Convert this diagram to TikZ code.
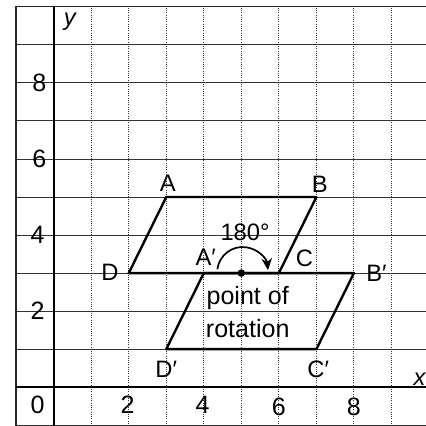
\documentclass[tikz,border=0pt]{standalone}
\usepackage{fontspec}
\setmainfont{Liberation Sans}
\usetikzlibrary{arrows.meta}
\tikzset{
  hline/.style={black!80, line width=0.7pt},
  vline/.style={black!80, line width=0.7pt, densely dotted},
  axisline/.style={black, line width=1.5pt},
  frameline/.style={black!85, line width=1pt},
  figline/.style={black, line width=1.8pt, line join=round},
  lbl/.style={inner sep=1pt, font=\fontsize{18}{20}\selectfont},
  big/.style={inner sep=1pt, font=\fontsize{19}{21}\selectfont},
  num/.style={inner sep=1pt, font=\fontsize{19}{21}\selectfont},
}
\begin{document}
\begin{tikzpicture}[x=1cm, y=1.0133cm]
\useasboundingbox (-1.43,-1.02) rectangle (9.92,10.18);
\fill[white] (-1.43,-1.02) rectangle (9.92,10.18);
% grid
\foreach \y in {-1,1,2,...,9}
  \draw[hline] (-1,\y) -- (9.92,\y);
\foreach \x in {1,...,9}
  \draw[vline] (\x,-1.02) -- (\x,10);
\draw[frameline] (9.92,10) -- (-1,10) -- (-1,-1.02);
% axes
\draw[axisline] (-1,0) -- (9.92,0);
\draw[axisline] (0,-1.02) -- (0,10);
% axis labels
\node[num] (n8) at (-0.38,8) {8};
\node[num] (n6) at (-0.38,6) {6};
\node[num] (n4) at (-0.43,4) {4};
\node[num] (n2) at (-0.43,2) {2};
\node[num] (n0) at (-0.43,-0.47) {0};
\node[num] (x2) at (1.97,-0.47) {2};
\node[num] (x4) at (3.97,-0.47) {4};
\node[num] (x6) at (6.0,-0.52) {6};
\node[num] (x8) at (8.0,-0.52) {8};
\node[lbl] (ly) at (0.43,9.6) {\itshape y};
\node[lbl] (lx) at (9.75,0.2) {\itshape x};
% original
\coordinate (A) at (3,5);
\coordinate (B) at (7,5);
\coordinate (C) at (6,3);
\coordinate (D) at (2,3);
% image
\coordinate (A1) at (4,3);
\coordinate (B1) at (8,3);
\coordinate (C1) at (7,1);
\coordinate (D1) at (3,1);
\coordinate (P) at (5,3);
\draw[figline] (A) -- (B) -- (C) -- (D) -- cycle;
\draw[figline] (A1) -- (B1) -- (C1) -- (D1) -- cycle;
\fill (P) circle (0.1);
\node[lbl] (lA) at (3.04,5.37) {A};
\node[lbl] (lB) at (7.09,5.33) {B};
\node[lbl] (lC) at (6.68,3.4) {C};
\node[lbl] (lD) at (1.5,3.03) {D};
\node[lbl] (lA1) at (4.05,3.42) {A′};
\node[lbl] (lB1) at (8.6,3.0) {B′};
\node[lbl] (lC1) at (7.05,0.47) {C′};
\node[lbl] (lD1) at (3.0,0.47) {D′};
% rotation arrow
\coordinate (S) at (4.36,3.1);
\draw[black, line width=1.3pt, -{Stealth[length=9pt,width=8pt]}] (S) arc[start angle=172, end angle=6, radius=0.68];
\node[lbl] (l180) at (5.1,4.08) {180°};
\node[big] (lpt) at (5.17,2.34) {point of};
\node[big] (lrot) at (5.17,1.55) {rotation};
\end{tikzpicture}
\end{document}
